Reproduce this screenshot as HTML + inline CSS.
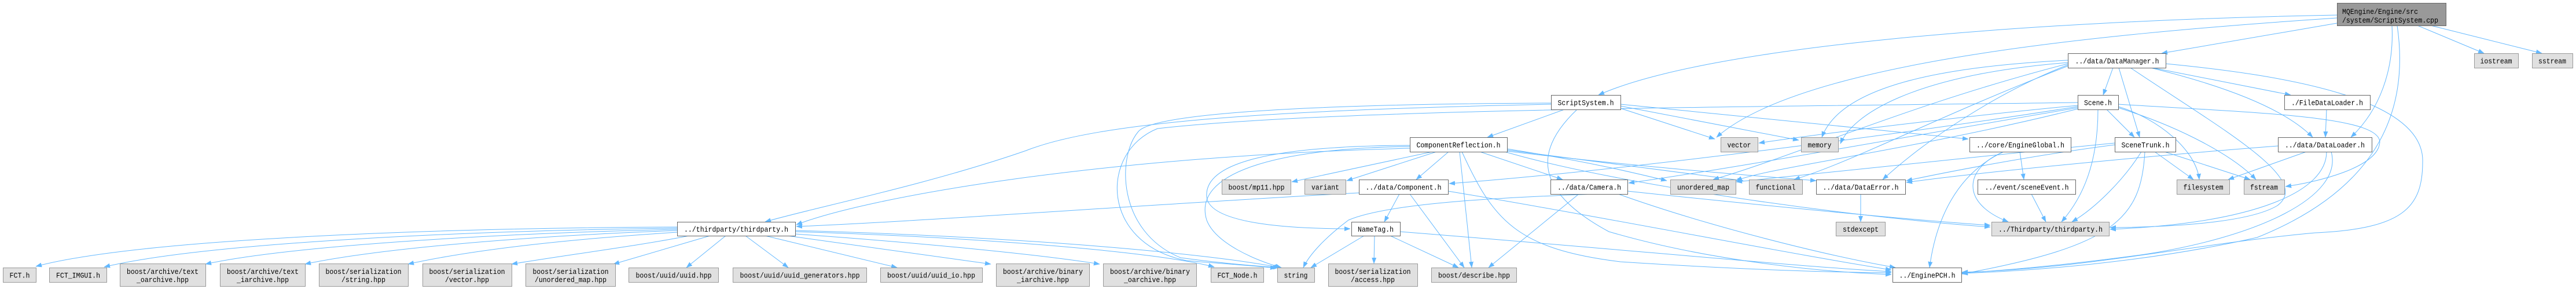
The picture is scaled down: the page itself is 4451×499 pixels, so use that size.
<!DOCTYPE html>
<html><head><meta charset="utf-8"><style>
html,body{margin:0;padding:0;background:#fff;}
svg{display:block;}
text{font-family:"Liberation Mono","Noto Sans CJK SC",monospace;font-size:13px;fill:#000;}
.g{fill:#e0e0e0;stroke:#999999;stroke-width:1;}
.w{fill:#ffffff;stroke:#666666;stroke-width:1;}
.r{fill:#999999;stroke:#666666;stroke-width:1;}
.e path{fill:none;stroke:#63b8ff;stroke-width:1;}
</style></head><body>
<svg width="4451" height="499" viewBox="0 0 4451 499" xmlns="http://www.w3.org/2000/svg">
<defs>
<marker id="a" markerWidth="11" markerHeight="9" refX="10" refY="4" orient="auto" markerUnits="userSpaceOnUse">
<path d="M0,0.3 L10,4 L0,7.7 z" fill="#63b8ff" stroke="#63b8ff" stroke-width="0.5"/>
</marker>
</defs>
<g class="e" marker-end="url(#a)">
<!-- root -->
<path marker-end="url(#a)" d="M4038,40 L3735,92"/>
<path marker-end="url(#a)" d="M4177,44 L4292,92"/>
<path marker-end="url(#a)" d="M4200,44 L4392,92"/>
<path marker-end="url(#a)" d="M4133,44 C4137,120 4112,190 4062,237"/>
<path marker-end="url(#a)" d="M4142,44 C4165,200 4100,330 3900,410 C3700,455 3500,468 3390,472"/>
<path marker-end="url(#a)" d="M4038,26 C3500,36 2950,80 2762,164"/>
<path marker-end="url(#a)" d="M4038,31 C3600,60 3110,110 2966,237"/>
<!-- DataManager -->
<path marker-end="url(#a)" d="M3651,117 L3634,164"/>
<path marker-end="url(#a)" d="M3661,117 L3697,237"/>
<path marker-end="url(#a)" d="M3719,117 L3958,164"/>
<path marker-end="url(#a)" d="M3716,117 C3850,150 3950,190 3996,237"/>
<path marker-end="url(#a)" d="M3681,117 C3850,230 3995,310 3935,355 C3885,385 3750,392 3646,393"/>
<path marker-end="url(#a)" d="M3742,110 C3950,130 4190,170 4186,280 C4186,360 4150,395 4000,402 C3800,420 3600,465 3390,470"/>
<path marker-end="url(#a)" d="M3573,104 C3350,115 3180,150 3148,237"/>
<path marker-end="url(#a)" d="M3573,112 C3450,160 3330,240 3253,310"/>
<path marker-end="url(#a)" d="M3573,110 C3300,180 3100,270 2960,310"/>
<path marker-end="url(#a)" d="M3573,114 C3350,200 3200,280 3100,310"/>
<path marker-end="url(#a)" d="M3573,108 C3300,130 3200,200 3180,248"/>
<!-- Scene -->
<path marker-end="url(#a)" d="M3640,189 L3688,237"/>
<path marker-end="url(#a)" d="M3660,184 C3730,205 3795,260 3800,310"/>
<path marker-end="url(#a)" d="M3660,186 C3770,220 3860,270 3898,310"/>
<path marker-end="url(#a)" d="M3660,180 C3900,195 4110,200 4112,245 C4110,290 4000,315 3949,322"/>
<path marker-end="url(#a)" d="M3625,189 C3625,280 3600,340 3562,383"/>
<path marker-end="url(#a)" d="M3590,182 C3400,200 3150,230 3039,247"/>
<path marker-end="url(#a)" d="M3590,184 C3300,230 2800,295 2504,317"/>
<path marker-end="url(#a)" d="M3590,186 C3300,235 3000,290 2814,316"/>
<path marker-end="url(#a)" d="M3590,177 C3000,185 2300,188 2000,222 C1900,262 1900,420 2050,450 C2120,456 2170,459 2205,463"/>
<path marker-end="url(#a)" d="M3590,188 C3300,260 3050,290 3000,312"/>
<!-- EngineGlobal -->
<path marker-end="url(#a)" d="M3490,262 L3497,310"/>
<path marker-end="url(#a)" d="M3462,262 C3395,290 3385,350 3470,383"/>
<path marker-end="url(#a)" d="M3462,262 C3380,300 3345,380 3334,462"/>
<path marker-end="url(#a)" d="M3510,335 L3535,383"/>
<!-- SceneTrunk -->
<path marker-end="url(#a)" d="M3723,262 L3790,310"/>
<path marker-end="url(#a)" d="M3740,262 L3888,310"/>
<path marker-end="url(#a)" d="M3700,262 C3670,310 3620,360 3580,383"/>
<path marker-end="url(#a)" d="M3706,262 C3700,380 3650,425 3390,473"/>
<path marker-end="url(#a)" d="M3654,250 C3500,270 3350,300 3294,312"/>
<path marker-end="url(#a)" d="M3654,247 C3400,272 3120,300 3000,314"/>
<!-- FileDataLoader / DataLoader -->
<path marker-end="url(#a)" d="M4020,189 L4018,237"/>
<path marker-end="url(#a)" d="M3985,262 L3850,310"/>
<path marker-end="url(#a)" d="M3936,252 C3700,270 3400,300 3294,315"/>
<path marker-end="url(#a)" d="M4020,262 C4020,330 3900,385 3646,396"/>
<path marker-end="url(#a)" d="M4028,262 C4050,340 3900,410 3700,440 C3550,460 3450,468 3390,471"/>
<!-- DataError -->
<path marker-end="url(#a)" d="M3215,335 L3215,383"/>
<!-- ScriptSystem -->
<path marker-end="url(#a)" d="M2703,189 L2570,237"/>
<path marker-end="url(#a)" d="M2800,187 L2963,240"/>
<path marker-end="url(#a)" d="M2800,183 L3108,242"/>
<path marker-end="url(#a)" d="M2800,180 L3401,240"/>
<path marker-end="url(#a)" d="M2725,189 C2650,260 2650,330 2780,400 C2950,450 3150,470 3268,474"/>
<path marker-end="url(#a)" d="M2680,180 C2200,190 1900,210 1773,260 C1600,320 1400,360 1322,383"/>
<path marker-end="url(#a)" d="M2680,178 C2200,180 1990,200 1967,227 C1930,270 1930,400 2040,445 C2120,456 2180,460 2210,462"/>
<!-- ComponentReflection -->
<path marker-end="url(#a)" d="M2475,262 L2232,314"/>
<path marker-end="url(#a)" d="M2482,262 L2327,312"/>
<path marker-end="url(#a)" d="M2503,262 L2447,310"/>
<path marker-end="url(#a)" d="M2557,262 L2700,310"/>
<path marker-end="url(#a)" d="M2522,262 L2543,462"/>
<path marker-end="url(#a)" d="M2526,262 C2580,380 2620,430 2800,452 C3000,465 3150,470 3268,471"/>
<path marker-end="url(#a)" d="M2436,251 C2200,252 2080,280 2085,340 C2090,390 2250,395 2333,395"/>
<path marker-end="url(#a)" d="M2436,253 C2200,256 2060,300 2085,380 C2100,420 2170,450 2214,462"/>
<path marker-end="url(#a)" d="M2604,257 C2750,280 2830,300 2880,312"/>
<path marker-end="url(#a)" d="M2604,259 C2800,285 2950,305 3012,312"/>
<path marker-end="url(#a)" d="M2604,261 C2850,290 3050,305 3138,312"/>
<path marker-end="url(#a)" d="M2600,262 C2800,320 3200,375 3439,392"/>
<path marker-end="url(#a)" d="M2436,256 C1900,270 1500,340 1376,388"/>
<!-- Component -->
<path marker-end="url(#a)" d="M2418,335 L2392,383"/>
<path marker-end="url(#a)" d="M2436,335 L2530,462"/>
<path marker-end="url(#a)" d="M2348,333 C2000,352 1550,385 1376,391"/>
<path marker-end="url(#a)" d="M2502,330 C2800,380 3100,440 3268,466"/>
<!-- Camera -->
<path marker-end="url(#a)" d="M2728,335 L2572,462"/>
<path marker-end="url(#a)" d="M2812,333 C2600,340 2400,350 2330,380 C2290,410 2262,440 2252,462"/>
<path marker-end="url(#a)" d="M2796,335 C2950,390 3150,440 3275,462"/>
<path marker-end="url(#a)" d="M2812,330 C3000,350 3300,380 3439,389"/>
<!-- NameTag -->
<path marker-end="url(#a)" d="M2357,407 L2265,462"/>
<path marker-end="url(#a)" d="M2375,407 L2374,455"/>
<path marker-end="url(#a)" d="M2402,407 L2520,462"/>
<path marker-end="url(#a)" d="M2419,400 C2800,430 3100,460 3268,469"/>
<!-- thirdparty fan -->
<path marker-end="url(#a)" d="M1170,392 C800,393 250,410 62,460"/>
<path marker-end="url(#a)" d="M1170,394 C800,398 350,420 180,461"/>
<path marker-end="url(#a)" d="M1170,396 C850,403 500,425 355,456"/>
<path marker-end="url(#a)" d="M1170,398 C900,408 650,430 527,456"/>
<path marker-end="url(#a)" d="M1170,401 C950,415 800,435 705,456"/>
<path marker-end="url(#a)" d="M1191,407 C1100,425 980,440 884,456"/>
<path marker-end="url(#a)" d="M1227,407 L1060,456"/>
<path marker-end="url(#a)" d="M1254,407 L1186,462"/>
<path marker-end="url(#a)" d="M1288,407 L1362,462"/>
<path marker-end="url(#a)" d="M1322,407 L1550,462"/>
<path marker-end="url(#a)" d="M1360,407 L1712,456"/>
<path marker-end="url(#a)" d="M1374,404 C1600,420 1800,440 1900,456"/>
<path marker-end="url(#a)" d="M1374,400 C1700,410 2000,435 2098,461"/>
<path marker-end="url(#a)" d="M1374,398 C1800,410 2100,440 2212,462"/>
</g>

<!-- nodes -->
<g>
<rect class="g" x="5.5" y="462.5" width="57" height="25"/><text x="34" y="479.5" text-anchor="middle" textLength="35" lengthAdjust="spacingAndGlyphs">FCT.h</text>
<rect class="g" x="85.5" y="462.5" width="99" height="25"/><text x="135" y="479.5" text-anchor="middle" textLength="76" lengthAdjust="spacingAndGlyphs">FCT_IMGUI.h</text>
<rect class="g" x="207.5" y="455.5" width="148" height="39"/><text x="281" y="473" text-anchor="middle" textLength="124" lengthAdjust="spacingAndGlyphs">boost/archive/text</text><text x="281" y="487" text-anchor="middle" textLength="90" lengthAdjust="spacingAndGlyphs">_oarchive.hpp</text>
<rect class="g" x="380.5" y="455.5" width="147" height="39"/><text x="454" y="473" text-anchor="middle" textLength="124" lengthAdjust="spacingAndGlyphs">boost/archive/text</text><text x="454" y="487" text-anchor="middle" textLength="90" lengthAdjust="spacingAndGlyphs">_iarchive.hpp</text>
<rect class="g" x="551.5" y="455.5" width="154" height="39"/><text x="628" y="473" text-anchor="middle" textLength="131" lengthAdjust="spacingAndGlyphs">boost/serialization</text><text x="628" y="487" text-anchor="middle" textLength="76" lengthAdjust="spacingAndGlyphs">/string.hpp</text>
<rect class="g" x="730.5" y="455.5" width="154" height="39"/><text x="807" y="473" text-anchor="middle" textLength="131" lengthAdjust="spacingAndGlyphs">boost/serialization</text><text x="807" y="487" text-anchor="middle" textLength="76" lengthAdjust="spacingAndGlyphs">/vector.hpp</text>
<rect class="g" x="908.5" y="455.5" width="155" height="39"/><text x="986" y="473" text-anchor="middle" textLength="131" lengthAdjust="spacingAndGlyphs">boost/serialization</text><text x="986" y="487" text-anchor="middle" textLength="124" lengthAdjust="spacingAndGlyphs">/unordered_map.hpp</text>
<rect class="g" x="1086.5" y="462.5" width="155" height="25"/><text x="1164" y="479.5" text-anchor="middle" textLength="131" lengthAdjust="spacingAndGlyphs">boost/uuid/uuid.hpp</text>
<rect class="g" x="1266.5" y="462.5" width="231" height="25"/><text x="1382" y="479.5" text-anchor="middle" textLength="207" lengthAdjust="spacingAndGlyphs">boost/uuid/uuid_generators.hpp</text>
<rect class="g" x="1521.5" y="462.5" width="176" height="25"/><text x="1609" y="479.5" text-anchor="middle" textLength="152" lengthAdjust="spacingAndGlyphs">boost/uuid/uuid_io.hpp</text>
<rect class="g" x="1721.5" y="455.5" width="161" height="39"/><text x="1802" y="473" text-anchor="middle" textLength="138" lengthAdjust="spacingAndGlyphs">boost/archive/binary</text><text x="1802" y="487" text-anchor="middle" textLength="90" lengthAdjust="spacingAndGlyphs">_iarchive.hpp</text>
<rect class="g" x="1906.5" y="455.5" width="161" height="39"/><text x="1987" y="473" text-anchor="middle" textLength="138" lengthAdjust="spacingAndGlyphs">boost/archive/binary</text><text x="1987" y="487" text-anchor="middle" textLength="90" lengthAdjust="spacingAndGlyphs">_oarchive.hpp</text>
<rect class="g" x="2092.5" y="462.5" width="91" height="25"/><text x="2138" y="479.5" text-anchor="middle" textLength="69" lengthAdjust="spacingAndGlyphs">FCT_Node.h</text>
<rect class="g" x="2207.5" y="462.5" width="64" height="25"/><text x="2239" y="479.5" text-anchor="middle" textLength="41" lengthAdjust="spacingAndGlyphs">string</text>
<rect class="g" x="2295.5" y="455.5" width="154" height="39"/><text x="2372" y="473" text-anchor="middle" textLength="131" lengthAdjust="spacingAndGlyphs">boost/serialization</text><text x="2372" y="487" text-anchor="middle" textLength="76" lengthAdjust="spacingAndGlyphs">/access.hpp</text>
<rect class="g" x="2473.5" y="462.5" width="147" height="25"/><text x="2547" y="479.5" text-anchor="middle" textLength="124" lengthAdjust="spacingAndGlyphs">boost/describe.hpp</text>
<rect class="w" x="3270.5" y="462.5" width="119" height="25"/><text x="3330" y="479.5" text-anchor="middle" textLength="97" lengthAdjust="spacingAndGlyphs">../EnginePCH.h</text>

<rect class="w" x="1170.5" y="383.5" width="204" height="24"/><text x="1272" y="400" text-anchor="middle" textLength="180" lengthAdjust="spacingAndGlyphs">../thirdparty/thirdparty.h</text>
<rect class="w" x="2335.5" y="383.5" width="84" height="24"/><text x="2377" y="400" text-anchor="middle" textLength="62" lengthAdjust="spacingAndGlyphs">NameTag.h</text>
<rect class="g" x="3172.5" y="383.5" width="85" height="24"/><text x="3215" y="400" text-anchor="middle" textLength="62" lengthAdjust="spacingAndGlyphs">stdexcept</text>
<rect class="g" x="3441.5" y="383.5" width="203" height="24"/><text x="3543" y="400" text-anchor="middle" textLength="180" lengthAdjust="spacingAndGlyphs">../Thirdparty/thirdparty.h</text>

<rect class="g" x="2111.5" y="310.5" width="119" height="25"/><text x="2171" y="327.5" text-anchor="middle" textLength="97" lengthAdjust="spacingAndGlyphs">boost/mp11.hpp</text>
<rect class="g" x="2254.5" y="310.5" width="71" height="25"/><text x="2290" y="327.5" text-anchor="middle" textLength="48" lengthAdjust="spacingAndGlyphs">variant</text>
<rect class="w" x="2348.5" y="310.5" width="154" height="25"/><text x="2425" y="327.5" text-anchor="middle" textLength="131" lengthAdjust="spacingAndGlyphs">../data/Component.h</text>
<rect class="w" x="2679.5" y="310.5" width="133" height="25"/><text x="2746" y="327.5" text-anchor="middle" textLength="110" lengthAdjust="spacingAndGlyphs">../data/Camera.h</text>
<rect class="g" x="2886.5" y="310.5" width="113" height="25"/><text x="2943" y="327.5" text-anchor="middle" textLength="90" lengthAdjust="spacingAndGlyphs">unordered_map</text>
<rect class="g" x="3022.5" y="310.5" width="92" height="25"/><text x="3068" y="327.5" text-anchor="middle" textLength="69" lengthAdjust="spacingAndGlyphs">functional</text>
<rect class="w" x="3138.5" y="310.5" width="154" height="25"/><text x="3215" y="327.5" text-anchor="middle" textLength="131" lengthAdjust="spacingAndGlyphs">../data/DataError.h</text>
<rect class="w" x="3417.5" y="310.5" width="169" height="25"/><text x="3502" y="327.5" text-anchor="middle" textLength="145" lengthAdjust="spacingAndGlyphs">../event/sceneEvent.h</text>
<rect class="g" x="3761.5" y="310.5" width="91" height="25"/><text x="3807" y="327.5" text-anchor="middle" textLength="69" lengthAdjust="spacingAndGlyphs">filesystem</text>
<rect class="g" x="3877.5" y="310.5" width="70" height="25"/><text x="3912" y="327.5" text-anchor="middle" textLength="48" lengthAdjust="spacingAndGlyphs">fstream</text>

<rect class="w" x="2436.5" y="237.5" width="168" height="25"/><text x="2520" y="254.5" text-anchor="middle" textLength="145" lengthAdjust="spacingAndGlyphs">ComponentReflection.h</text>
<rect class="g" x="2973.5" y="237.5" width="64" height="25"/><text x="3005" y="254.5" text-anchor="middle" textLength="41" lengthAdjust="spacingAndGlyphs">vector</text>
<rect class="g" x="3112.5" y="237.5" width="64" height="25"/><text x="3144" y="254.5" text-anchor="middle" textLength="41" lengthAdjust="spacingAndGlyphs">memory</text>
<rect class="w" x="3403.5" y="237.5" width="175" height="25"/><text x="3491" y="254.5" text-anchor="middle" textLength="152" lengthAdjust="spacingAndGlyphs">../core/EngineGlobal.h</text>
<rect class="w" x="3654.5" y="237.5" width="105" height="25"/><text x="3707" y="254.5" text-anchor="middle" textLength="83" lengthAdjust="spacingAndGlyphs">SceneTrunk.h</text>
<rect class="w" x="3936.5" y="237.5" width="162" height="25"/><text x="4017" y="254.5" text-anchor="middle" textLength="138" lengthAdjust="spacingAndGlyphs">../data/DataLoader.h</text>

<rect class="w" x="2680.5" y="164.5" width="120" height="25"/><text x="2740" y="181.5" text-anchor="middle" textLength="97" lengthAdjust="spacingAndGlyphs">ScriptSystem.h</text>
<rect class="w" x="3590.5" y="164.5" width="70" height="25"/><text x="3625" y="181.5" text-anchor="middle" textLength="48" lengthAdjust="spacingAndGlyphs">Scene.h</text>
<rect class="w" x="3947.5" y="164.5" width="148" height="25"/><text x="4021" y="181.5" text-anchor="middle" textLength="124" lengthAdjust="spacingAndGlyphs">./FileDataLoader.h</text>

<rect class="w" x="3573.5" y="92.5" width="169" height="25"/><text x="3658" y="109.5" text-anchor="middle" textLength="145" lengthAdjust="spacingAndGlyphs">../data/DataManager.h</text>
<rect class="g" x="4275.5" y="92.5" width="76" height="25"/><text x="4313" y="109.5" text-anchor="middle" textLength="55" lengthAdjust="spacingAndGlyphs">iostream</text>
<rect class="g" x="4375.5" y="92.5" width="70" height="25"/><text x="4410" y="109.5" text-anchor="middle" textLength="48" lengthAdjust="spacingAndGlyphs">sstream</text>

<rect class="r" x="4038.5" y="5.5" width="188" height="39"/>
<text x="4047" y="24" textLength="131" lengthAdjust="spacingAndGlyphs">MQEngine/Engine/src</text>
<text x="4047" y="39" textLength="166" lengthAdjust="spacingAndGlyphs">/system/ScriptSystem.cpp</text>
</g>
</svg>
</body></html>
